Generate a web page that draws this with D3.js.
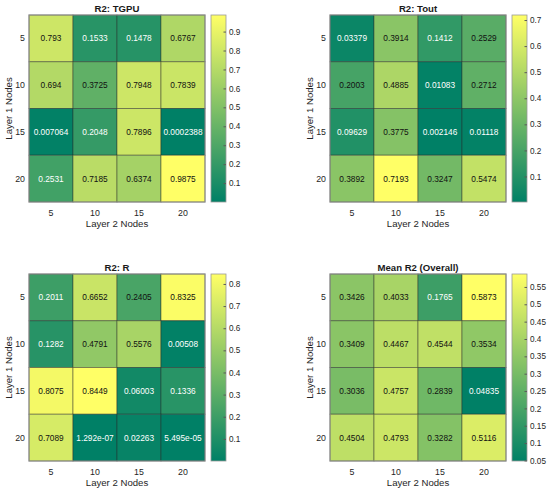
<!DOCTYPE html>
<html>
<head>
<meta charset="utf-8">
<script src="https://cdn.jsdelivr.net/npm/d3@7"></script>
<style>
  body { margin: 0; background: #fff; }
  svg { font-family: "Liberation Sans", Arial, Helvetica, sans-serif; }
</style>
</head>
<body>
<div id="chart"></div>
<script>
// grid labels
const rowLabels = ["5", "10", "15", "20"];   // Layer 1 Nodes
const colLabels = ["5", "10", "15", "20"];   // Layer 2 Nodes

// cell values, row by row (Layer 1 = 5, 10, 15, 20)
const tgpuValues = [
    [0.793, 0.1533, 0.1478, 0.6767],
    [0.694, 0.3725, 0.7948, 0.7839],
    [0.007064, 0.2048, 0.7896, 0.0002388],
    [0.2531, 0.7185, 0.6374, 0.9875]
];
const toutValues = [
    [0.03379, 0.3914, 0.1412, 0.2529],
    [0.2003, 0.4885, 0.01083, 0.2712],
    [0.09629, 0.3775, 0.002146, 0.01118],
    [0.3892, 0.7193, 0.3247, 0.5474]
];
const rValues = [
    [0.2011, 0.6652, 0.2405, 0.8325],
    [0.1282, 0.4791, 0.5576, 0.00508],
    [0.8075, 0.8449, 0.06003, 0.1336],
    [0.7089, 1.292e-07, 0.02263, 5.495e-05]
];
const meanValues = [
    [0.3426, 0.4033, 0.1765, 0.5873],
    [0.3409, 0.4467, 0.4544, 0.3534],
    [0.3036, 0.4757, 0.2839, 0.04835],
    [0.4504, 0.4793, 0.3282, 0.5116]
];

// colorbar ticks
const tgpuTicks = [0.1, 0.2, 0.3, 0.4, 0.5, 0.6, 0.7, 0.8, 0.9];
const toutTicks = [0.1, 0.2, 0.3, 0.4, 0.5, 0.6, 0.7];
const rTicks = [0.1, 0.2, 0.3, 0.4, 0.5, 0.6, 0.7, 0.8];
const meanTicks = [0.05, 0.1, 0.15, 0.2, 0.25, 0.3, 0.35, 0.4, 0.45, 0.5, 0.55];

const titles = ["R2: TGPU", "R2: Tout", "R2: R", "Mean R2 (Overall)"];

const W = 550, H = 495;
const svg = d3.select("#chart").append("svg")
    .attr("width", W)
    .attr("height", H);

// MATLAB "summer" colormap
const summer = d3.interpolateRgb("#008066", "#ffff66");

// MATLAB style %.4g
function fmt(v) {
    if (v !== 0 && Math.floor(Math.log10(Math.abs(v))) < -4) {
        let s = v.toExponential(3);
        let [m, e] = s.split("e");
        m = m.replace(/\.?0+$/, "");
        let sign = e[0];
        let digits = e.slice(1).padStart(2, "0");
        return m + "e" + sign + digits;
    }
    let s = v.toPrecision(4);
    if (s.indexOf(".") >= 0) s = s.replace(/0+$/, "").replace(/\.$/, "");
    return s;
}

function drawHeatmap(left, top, values, ticks, title) {
    const w = 176, h = 187;
    const g = svg.append("g").attr("transform", `translate(${left}, ${top})`);

    const x = d3.scaleBand().domain(colLabels).range([0, w]);
    const y = d3.scaleBand().domain(rowLabels).range([0, h]);

    const flat = values.flat();
    const vmin = d3.min(flat), vmax = d3.max(flat);
    const norm = d3.scaleLinear().domain([vmin, vmax]).range([0, 1]);

    const cells = [];
    values.forEach((row, i) => row.forEach((v, j) => {
        cells.push({ row: rowLabels[i], col: colLabels[j], value: v });
    }));

    g.selectAll("rect.cell")
        .data(cells)
        .join("rect")
        .attr("class", "cell")
        .attr("x", d => x(d.col))
        .attr("y", d => y(d.row))
        .attr("width", x.bandwidth())
        .attr("height", y.bandwidth())
        .attr("fill", d => summer(norm(d.value)))
        .attr("stroke", "rgba(40,40,40,0.45)")
        .attr("stroke-width", 1);

    g.selectAll("text.val")
        .data(cells)
        .join("text")
        .attr("class", "val")
        .attr("x", d => x(d.col) + x.bandwidth() / 2)
        .attr("y", d => y(d.row) + y.bandwidth() / 2)
        .attr("dy", "0.35em")
        .attr("text-anchor", "middle")
        .attr("font-size", 8.3)
        .attr("fill", d => norm(d.value) > 0.27 ? "#111" : "#fff")
        .text(d => fmt(d.value));

    // outer frame
    g.append("rect")
        .attr("width", w).attr("height", h)
        .attr("fill", "none")
        .attr("stroke", "#8c8c8c")
        .attr("stroke-width", 1);

    // x tick labels
    g.selectAll("text.xt")
        .data(colLabels)
        .join("text")
        .attr("class", "xt")
        .attr("x", d => x(d) + x.bandwidth() / 2)
        .attr("y", h + 13.5)
        .attr("text-anchor", "middle")
        .attr("font-size", 8.8)
        .attr("fill", "#262626")
        .text(d => d);

    // y tick labels
    g.selectAll("text.yt")
        .data(rowLabels)
        .join("text")
        .attr("class", "yt")
        .attr("x", -4)
        .attr("y", d => y(d) + y.bandwidth() / 2)
        .attr("dy", "0.35em")
        .attr("text-anchor", "end")
        .attr("font-size", 8.8)
        .attr("fill", "#262626")
        .text(d => d);

    g.append("text")
        .attr("x", w / 2)
        .attr("y", h + 25)
        .attr("text-anchor", "middle")
        .attr("font-size", 9.6)
        .attr("fill", "#262626")
        .text("Layer 2 Nodes");

    g.append("text")
        .attr("transform", `translate(${-17.5}, ${h / 2}) rotate(-90)`)
        .attr("text-anchor", "middle")
        .attr("font-size", 9.6)
        .attr("fill", "#262626")
        .text("Layer 1 Nodes");

    g.append("text")
        .attr("x", w / 2)
        .attr("y", -3.5)
        .attr("text-anchor", "middle")
        .attr("font-size", 9.6)
        .attr("font-weight", "bold")
        .attr("fill", "#1a1a1a")
        .text(title);

    // colorbar
    const cbX = w + 6, cbW = 15;
    const cb = g.append("g").attr("transform", `translate(${cbX}, 0)`);
    const cy = d3.scaleLinear().domain([vmin, vmax]).range([h, 0]);

    const gradId = "grad" + left + "_" + top;
    const grad = svg.append("defs").append("linearGradient")
        .attr("id", gradId)
        .attr("x1", 0).attr("y1", 1).attr("x2", 0).attr("y2", 0);
    d3.range(0, 1.001, 0.1).forEach(t => {
        grad.append("stop").attr("offset", t).attr("stop-color", summer(t));
    });

    cb.append("rect")
        .attr("width", cbW).attr("height", h)
        .attr("fill", `url(#${gradId})`)
        .attr("stroke", "#9a9a9a")
        .attr("stroke-width", 0.8);

    const axis = d3.axisRight(cy)
        .tickValues(ticks)
        .tickSize(-2.5)
        .tickPadding(3)
        .tickFormat(d => fmt(d));
    const ag = cb.append("g")
        .attr("transform", `translate(${cbW}, 0)`)
        .call(axis);
    ag.select(".domain").remove();
    ag.selectAll(".tick line").attr("stroke", "#5a5a5a");
    ag.selectAll(".tick text")
        .attr("font-size", 8.2)
        .attr("font-family", "Liberation Sans, Arial, sans-serif")
        .attr("fill", "#262626");
}

drawHeatmap(29, 15, tgpuValues, tgpuTicks, titles[0]);
drawHeatmap(330, 15, toutValues, toutTicks, titles[1]);
drawHeatmap(29, 274, rValues, rTicks, titles[2]);
drawHeatmap(330, 274, meanValues, meanTicks, titles[3]);
</script>
</body>
</html>
